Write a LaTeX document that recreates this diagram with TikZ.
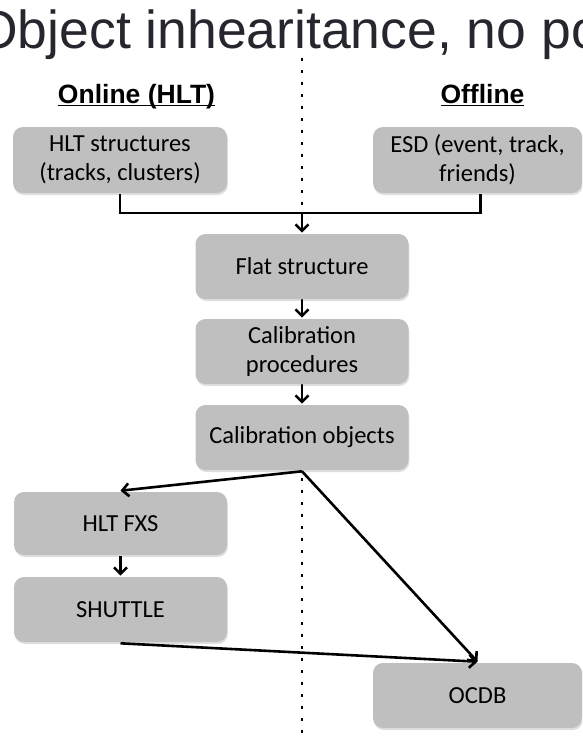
\documentclass[tikz,border=0pt]{standalone}
\usepackage{fontspec}
\usepackage{xcolor}
\usetikzlibrary{arrows.meta,shadows}
\newfontfamily\boxfont{Carlito}
\newfontfamily\headfont{Liberation Sans}
\definecolor{boxgray}{RGB}{191,191,191}
\definecolor{titlegray}{RGB}{38,38,46}
\newcommand{\ulabel}[1]{\setbox0\hbox{#1}\rlap{\rule[-3.4pt]{\wd0}{1.8pt}}\box0}

\begin{document}
\begin{tikzpicture}[x=1pt,y=-1pt,
	line width=2.6pt,-{Straight Barb[length=6.5pt,width=13pt]}]
	\tikzstyle{stepbox}=[rectangle,rounded corners=10pt,fill=boxgray,text=black,
		inner sep=0pt,minimum width=213pt,minimum height=65pt,align=center,
		font=\boxfont\fontsize{24.5}{29}\selectfont,
		drop shadow={shadow xshift=0.8pt,shadow yshift=-2pt,opacity=0.25}]
	\tikzstyle{side}=[inner sep=0pt,anchor=base,font=\headfont\bfseries\fontsize{26.5}{30}\selectfont]
	\tikzstyle{divider}=[-,line width=2.8pt,dash pattern=on 2.8pt off 9.2pt]
	
	\clip (0,0) rectangle (582,740);
	
	% Title, cut at both sides
	\node[inner sep=0pt,anchor=base west,text=titlegray,
		font=\headfont\fontsize{53.5}{60}\selectfont] (title) at (-25,48.5) {Object inhearitance, no po};
	
	% Divider between online and offline
	\coordinate (divtop) at (302,58);
	\coordinate (divbot) at (302,740);
	\draw[divider] (divtop) -- (divbot);
	
	% Column heads
	\node[side] (online) at (136.5,103) {\ulabel{Online (HLT)}};
	\node[side] (offline) at (482.5,103) {\ulabel{Offline}};
	
	% Draw boxes
	\node[stepbox,minimum width=214pt,minimum height=66pt] (hlt) at (120,160) {HLT structures\\(tracks, clusters)};
	\node[stepbox,minimum width=209pt,minimum height=66pt] (esd) at (477.5,160) {ESD (event, track,\\friends)};
	\node[stepbox] (flat) at (302,266.5) {Flat structure};
	\node[stepbox] (calproc) at (302,351.5) {Calibration\\procedures};
	\node[stepbox] (calobj) at (302,437.5) {Calibration objects};
	\node[stepbox,minimum height=63pt] (fxs) at (120.5,523.5) {HLT FXS};
	\node[stepbox] (shuttle) at (120.5,609.5) {SHUTTLE};
	\node[stepbox,minimum width=209pt] (ocdb) at (477.5,695.5) {OCDB};
	
	% Merge online and offline input
	\coordinate (join) at (302,213);
	\draw[-] (hlt.south) |- (join);
	\draw[-] ([xshift=3pt]esd.south) |- (join);
	\draw (join) -- (flat);
	
	% Chain down the middle
	\draw (flat) -- (calproc);
	\draw (calproc) -- (calobj);
	
	% Calibration objects go both ways
	\draw (calobj.south) -- (fxs.north);
	\draw (calobj.south) -- (ocdb.north);
	\draw (fxs) -- (shuttle);
	\draw (shuttle.south) -- (ocdb.north);
\end{tikzpicture}
\end{document}
